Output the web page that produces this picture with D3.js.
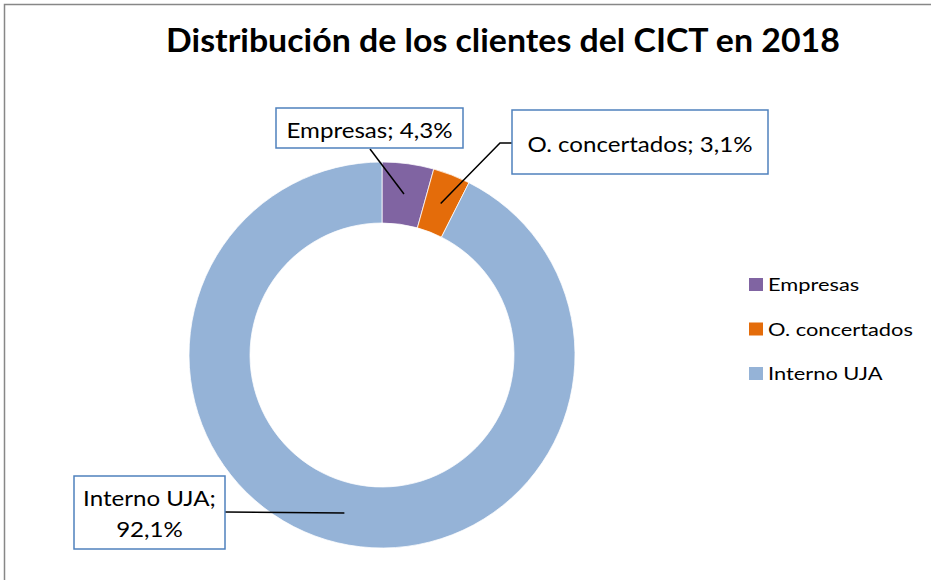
<!DOCTYPE html>
<html>
<head>
<meta charset="utf-8">
<script src="https://cdn.jsdelivr.net/npm/d3@7"></script>
<style>
  body { margin: 0; background: #fff; }
  text { font-family: Lato, "Open Sans", sans-serif; fill: #000; }
</style>
</head>
<body>
<div id="chart"></div>
<script>
var categories = ["Empresas", "O. concertados", "Interno UJA"]
var values = [4.3, 3.1, 92.1]
var valueLabels = ["4,3%", "3,1%", "92,1%"]
var colors = ["#8064A2", "#E46C0A", "#95B3D7"]
var title = "Distribución de los clientes del CICT en 2018"

var width = 931, height = 580
var cx = 382, cy = 355, outerR = 193, innerR = 132

var svg = d3.select("#chart").append("svg")
  .attr("width", width)
  .attr("height", height)

// chart area border (runs off the right/bottom of the picture)
svg.append("rect")
  .attr("x", 4.5).attr("y", 4.5)
  .attr("width", width + 10).attr("height", height + 10)
  .attr("fill", "#fff")
  .attr("stroke", "#878787")
  .attr("stroke-width", 1.5)

// squeeze a text horizontally (around its anchor) so it spans w pixels
function squeeze(sel, w) {
  var x = +sel.attr("x")
  var len = sel.node().getComputedTextLength()
  var k = w / len
  sel.attr("transform", "translate(" + x + ",0) scale(" + k + ",1) translate(" + (-x) + ",0)")
  return k
}

var t = svg.append("text")
  .attr("x", 503).attr("y", 52)
  .attr("text-anchor", "middle")
  .style("font-size", "33px")
  .style("font-weight", "bold")
  .text(title)
squeeze(t, 674)

var data = categories.map(function(c, i) {
  return { name: c, value: values[i], label: valueLabels[i], color: colors[i] }
})

var pie = d3.pie().sort(null).value(function(d) { return d.value })
var arc = d3.arc().innerRadius(innerR).outerRadius(outerR)
var arcs = pie(data)

var g = svg.append("g").attr("transform", "translate(" + cx + "," + cy + ")")
g.selectAll("path")
  .data(arcs)
  .enter().append("path")
    .attr("d", arc)
    .attr("fill", function(d) { return d.data.color })
    .attr("stroke", "#fff")
    .attr("stroke-width", 0.75)

// data labels: boxes and leader lines
var boxes = [
  { x: 276, y: 108, w: 187, h: 40, lines: [categories[0] + "; " + valueLabels[0]], base: [138],
    leader: [[370, 149]] },
  { x: 512, y: 110, w: 256, h: 64, lines: [categories[1] + "; " + valueLabels[1]], base: [152],
    leader: [[512, 143], [500, 143]] },
  { x: 74, y: 476, w: 151, h: 73, lines: [categories[2] + ";", valueLabels[2]], base: [506, 537],
    leader: [[225, 512]] }
]

boxes.forEach(function(b, i) {
  var c = arc.centroid(arcs[i])
  var pts = b.leader.concat([[cx + c[0], cy + c[1]]])
  svg.append("path")
    .attr("d", d3.line()(pts))
    .attr("fill", "none")
    .attr("stroke", "#000")
    .attr("stroke-width", 1.5)
})

var k = 1
boxes.forEach(function(b, i) {
  svg.append("rect")
    .attr("x", b.x).attr("y", b.y)
    .attr("width", b.w).attr("height", b.h)
    .attr("fill", "#fff")
    .attr("stroke", "#4F81BD")
    .attr("stroke-width", 1.5)
  b.lines.forEach(function(l, j) {
    var tx = svg.append("text")
      .attr("x", b.x + b.w / 2).attr("y", b.base[j])
      .attr("text-anchor", "middle")
      .style("font-size", "22px")
      .text(l)
    if (i == 0 && j == 0) k = squeeze(tx, 166)
    else {
      var x = b.x + b.w / 2
      tx.attr("transform", "translate(" + x + ",0) scale(" + k + ",1) translate(" + (-x) + ",0)")
    }
  })
})

// legend
var legend = svg.append("g")
var rows = legend.selectAll("g")
  .data(data)
  .enter().append("g")
    .attr("transform", function(d, i) { return "translate(749," + (278 + i * 44.5) + ")" })
rows.append("rect")
  .attr("width", 14).attr("height", 13)
  .attr("fill", function(d) { return d.color })
var lt = rows.append("text")
  .attr("x", 19).attr("y", 13)
  .style("font-size", "18px")
  .text(function(d) { return d.name })
var ref = lt.nodes()[1]
var lk = 145 / ref.getComputedTextLength()
lt.attr("transform", "translate(19,0) scale(" + lk + ",1) translate(-19,0)")
</script>
</body>
</html>
